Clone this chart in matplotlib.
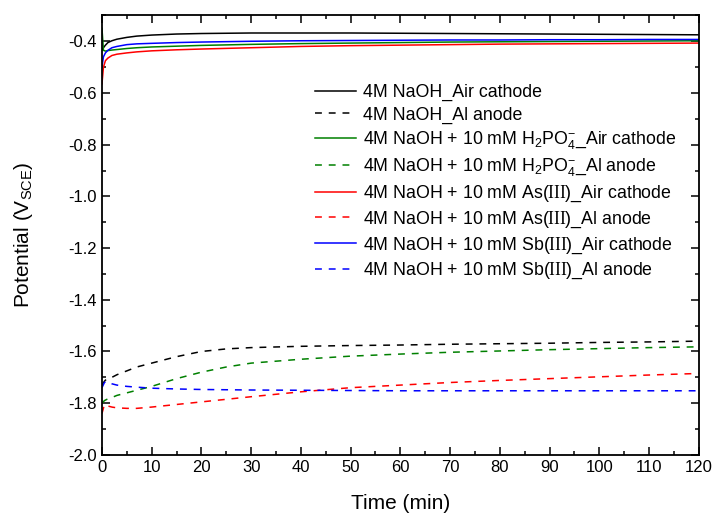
import matplotlib
matplotlib.use("Agg")
import matplotlib.pyplot as plt
from matplotlib.ticker import MultipleLocator

plt.rcParams['font.family'] = ['Liberation Sans', 'DejaVu Sans']
plt.rcParams['axes.unicode_minus'] = False
plt.rcParams['mathtext.fontset'] = 'custom'
plt.rcParams['mathtext.rm'] = 'Liberation Sans'
plt.rcParams['mathtext.it'] = 'Liberation Sans:italic'
plt.rcParams['mathtext.bf'] = 'Liberation Sans:bold'
# serif roman numerals for the oxidation states, written as \mathsf below
plt.rcParams['mathtext.sf'] = 'Liberation Serif'

# time axes (min)
t_cathode = [0, 0.3, 0.7, 1.2, 2, 3, 5, 7, 10, 15, 20, 30, 40, 50, 60, 70, 80, 90, 100, 110, 120]
t_anode = [0, 0.5, 1, 2, 3, 5, 7, 10, 15, 20, 25, 30, 40, 50, 60, 70, 80, 90, 100, 110, 120]

# air cathode potentials (V vs SCE)
naoh_cathode = [-0.435, -0.425, -0.415, -0.405, -0.398, -0.392, -0.385, -0.380, -0.376, -0.372, -0.370,
                -0.368, -0.368, -0.368, -0.369, -0.370, -0.371, -0.372, -0.373, -0.374, -0.375]
h2po4_cathode = [-0.35, -0.435, -0.438, -0.436, -0.434, -0.432, -0.428, -0.425, -0.422, -0.419, -0.416,
                 -0.412, -0.409, -0.407, -0.405, -0.403, -0.402, -0.401, -0.400, -0.399, -0.398]
as_cathode = [-0.565, -0.50, -0.475, -0.465, -0.455, -0.450, -0.445, -0.441, -0.437, -0.433, -0.430,
              -0.425, -0.420, -0.417, -0.415, -0.413, -0.411, -0.410, -0.409, -0.408, -0.407]
sb_cathode = [-0.50, -0.46, -0.445, -0.435, -0.425, -0.420, -0.413, -0.410, -0.408, -0.405, -0.403,
              -0.400, -0.398, -0.397, -0.396, -0.395, -0.395, -0.394, -0.394, -0.393, -0.393]

# Al anode potentials (V vs SCE)
naoh_anode = [-1.73, -1.715, -1.705, -1.70, -1.69, -1.675, -1.66, -1.645, -1.62, -1.60, -1.59,
              -1.585, -1.58, -1.577, -1.575, -1.572, -1.57, -1.568, -1.565, -1.563, -1.56]
h2po4_anode = [-1.80, -1.79, -1.785, -1.778, -1.77, -1.76, -1.75, -1.735, -1.705, -1.68, -1.66,
               -1.645, -1.63, -1.618, -1.61, -1.603, -1.598, -1.593, -1.589, -1.585, -1.582]
as_anode = [-1.84, -1.805, -1.81, -1.815, -1.818, -1.82, -1.82, -1.815, -1.805, -1.795, -1.785,
            -1.775, -1.756, -1.74, -1.73, -1.72, -1.712, -1.705, -1.698, -1.691, -1.685]
sb_anode = [-1.74, -1.72, -1.715, -1.725, -1.73, -1.735, -1.738, -1.742, -1.745, -1.747, -1.748,
            -1.749, -1.75, -1.751, -1.752, -1.752, -1.752, -1.752, -1.752, -1.752, -1.752]

labels = [
    "4M NaOH_Air cathode",
    "4M NaOH_Al anode",
    "4M NaOH + 10 mM H$_2$PO$_4^{-}$_Air cathode",
    "4M NaOH + 10 mM H$_2$PO$_4^{-}$_Al anode",
    "4M NaOH + 10 mM As($\\mathsf{III}$)_Air cathode",
    "4M NaOH + 10 mM As($\\mathsf{III}$)_Al anode",
    "4M NaOH + 10 mM Sb($\\mathsf{III}$)_Air cathode",
    "4M NaOH + 10 mM Sb($\\mathsf{III}$)_Al anode",
]

fig = plt.figure(figsize=(7.13, 5.14), dpi=100)
ax = fig.add_axes([0.143, 0.115, 0.837, 0.855])

dash = (4.5, 4.5)
lw = 1.1
ax.plot(t_cathode, naoh_cathode, color="black", lw=lw, label=labels[0])
ax.plot(t_anode, naoh_anode, color="black", lw=lw, dashes=dash, label=labels[1])
ax.plot(t_cathode, h2po4_cathode, color="#008000", lw=lw, label=labels[2])
ax.plot(t_anode, h2po4_anode, color="#008000", lw=lw, dashes=dash, label=labels[3])
ax.plot(t_cathode, as_cathode, color="red", lw=lw, label=labels[4])
ax.plot(t_anode, as_anode, color="red", lw=lw, dashes=dash, label=labels[5])
ax.plot(t_cathode, sb_cathode, color="blue", lw=lw, label=labels[6])
ax.plot(t_anode, sb_anode, color="blue", lw=lw, dashes=dash, label=labels[7])

ax.set_xlim(0, 120)
ax.set_ylim(-2.0, -0.3)
ax.xaxis.set_major_locator(MultipleLocator(10))
ax.xaxis.set_minor_locator(MultipleLocator(5))
ax.yaxis.set_minor_locator(MultipleLocator(0.1))
ax.set_yticks([-2.0, -1.8, -1.6, -1.4, -1.2, -1.0, -0.8, -0.6, -0.4])
ax.tick_params(which="both", direction="in", top=True, right=True, labelsize=12, width=1.1)
ax.tick_params(which="major", length=6)
ax.tick_params(which="minor", length=3)
for s in ax.spines.values():
    s.set_linewidth(1.3)

ax.set_xlabel("Time (min)", fontsize=15, labelpad=14)
ax.set_ylabel("Potential (V$_{\\mathrm{SCE}}$)", fontsize=15, labelpad=24)

ax.legend(loc="upper left", bbox_to_anchor=(0.345, 0.86), frameon=False, fontsize=12.8,
          handlelength=2.3, handletextpad=0.4, labelspacing=0.3, borderaxespad=0)

fig.savefig("out.png", dpi=100)
